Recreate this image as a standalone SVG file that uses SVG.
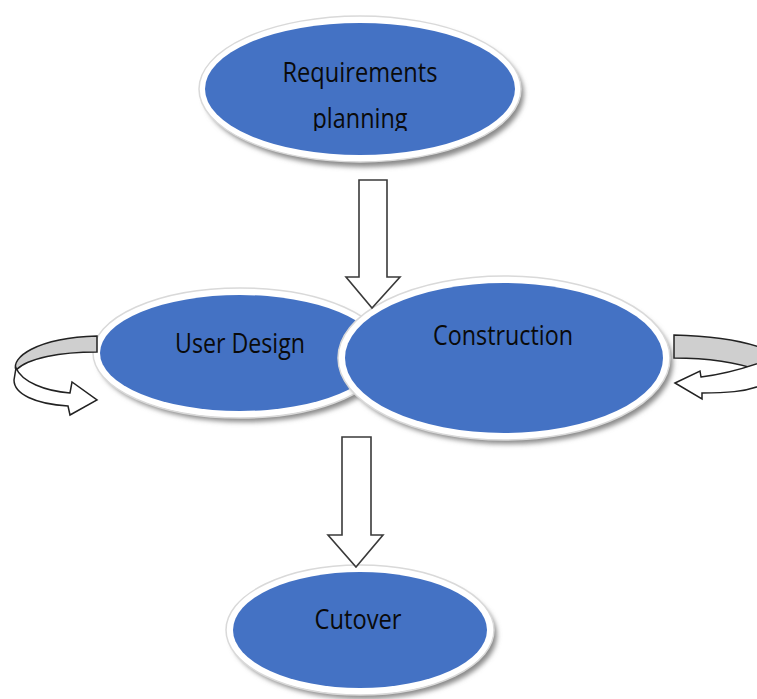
<svg xmlns="http://www.w3.org/2000/svg" width="757" height="699" viewBox="0 0 757 699">
<defs>
<filter id="sh" x="-10%" y="-10%" width="120%" height="130%"><feGaussianBlur stdDeviation="2.5"/></filter>
<clipPath id="clipReq"><rect x="0" y="0" width="757" height="131"/></clipPath>
</defs>
<style>
.shadow{fill:#8a8a8a;filter:url(#sh)}
.rim{fill:#ffffff;stroke:#d9d9d9;stroke-width:1.5}
.body{fill:#4472C4}
.lbl{font-family:"Liberation Sans Narrow","Open Sans","Liberation Sans",sans-serif;font-size:27px;fill:#0a0a0a;text-anchor:middle}
.arrow{fill:#ffffff;stroke:#3a3a3a;stroke-width:1.6;stroke-linejoin:miter}
.loopback{fill:#cfcfcf;stroke:#222222;stroke-width:1.5}
.loopfront{fill:#ffffff;stroke:#222222;stroke-width:1.5}
</style>
<rect width="757" height="699" fill="#ffffff"/>

<g id="requirements-planning">
<ellipse class="shadow" cx="364" cy="94" rx="160" ry="73"/>
<ellipse class="rim" cx="360" cy="89" rx="161" ry="73"/>
<ellipse class="body" cx="360" cy="89" rx="155" ry="66"/>
<g clip-path="url(#clipReq)">
<text class="lbl" x="360" y="82" textLength="155" lengthAdjust="spacingAndGlyphs">Requirements</text>
<text class="lbl" x="360" y="128" textLength="95" lengthAdjust="spacingAndGlyphs">planning</text>
</g>
</g>

<g id="user-design">
<ellipse class="shadow" cx="244" cy="358" rx="146" ry="64"/>
<ellipse class="rim" cx="240" cy="353" rx="147" ry="65"/>
<ellipse class="body" cx="240" cy="353" rx="140" ry="58"/>
<text class="lbl" x="240" y="353" textLength="130" lengthAdjust="spacingAndGlyphs">User Design</text>
</g>

<g id="construction">
<ellipse class="shadow" cx="508" cy="363" rx="165" ry="81"/>
<ellipse class="rim" cx="504" cy="358" rx="166" ry="82"/>
<ellipse class="body" cx="504" cy="358" rx="159" ry="75"/>
<text class="lbl" x="503" y="345" textLength="140" lengthAdjust="spacingAndGlyphs">Construction</text>
</g>

<g id="cutover">
<ellipse class="shadow" cx="364" cy="635" rx="133" ry="64"/>
<ellipse class="rim" cx="360" cy="630" rx="134" ry="65"/>
<ellipse class="body" cx="360" cy="630" rx="127" ry="58"/>
<text class="lbl" x="358" y="629" textLength="87" lengthAdjust="spacingAndGlyphs">Cutover</text>
</g>

<g id="connectors">
<path class="arrow" d="M359,180 L387,180 L387,277 L400,277 L372,308 L346,277 L359,277 Z"/>
<path class="arrow" d="M342,437 L371,437 L371,535 L383,535 L356,567 L328,535 L342,535 Z"/>
<g id="loop-user-design">
<path class="loopback" d="M97,336 L97,352 C60,352 28,358 16,370 C11,358 35,338 97,336 Z"/>
<path class="loopfront" d="M16,368 C22,382 45,391 70,393 L72,382 L97,400 L70,415 L68,406 C35,404 14,394 14,380 Z"/>
</g>
<g id="loop-construction">
<path class="loopback" d="M674,335 L674,358 C705,358 740,362 762,372 L762,348 C740,340 710,336 674,335 Z"/>
<path class="loopfront" d="M675,383 L700,371 L701,377 C725,374 745,368 762,362 L762,385 C745,392 725,393 702,393 L702,399 Z"/>
</g>
</g>
</svg>
